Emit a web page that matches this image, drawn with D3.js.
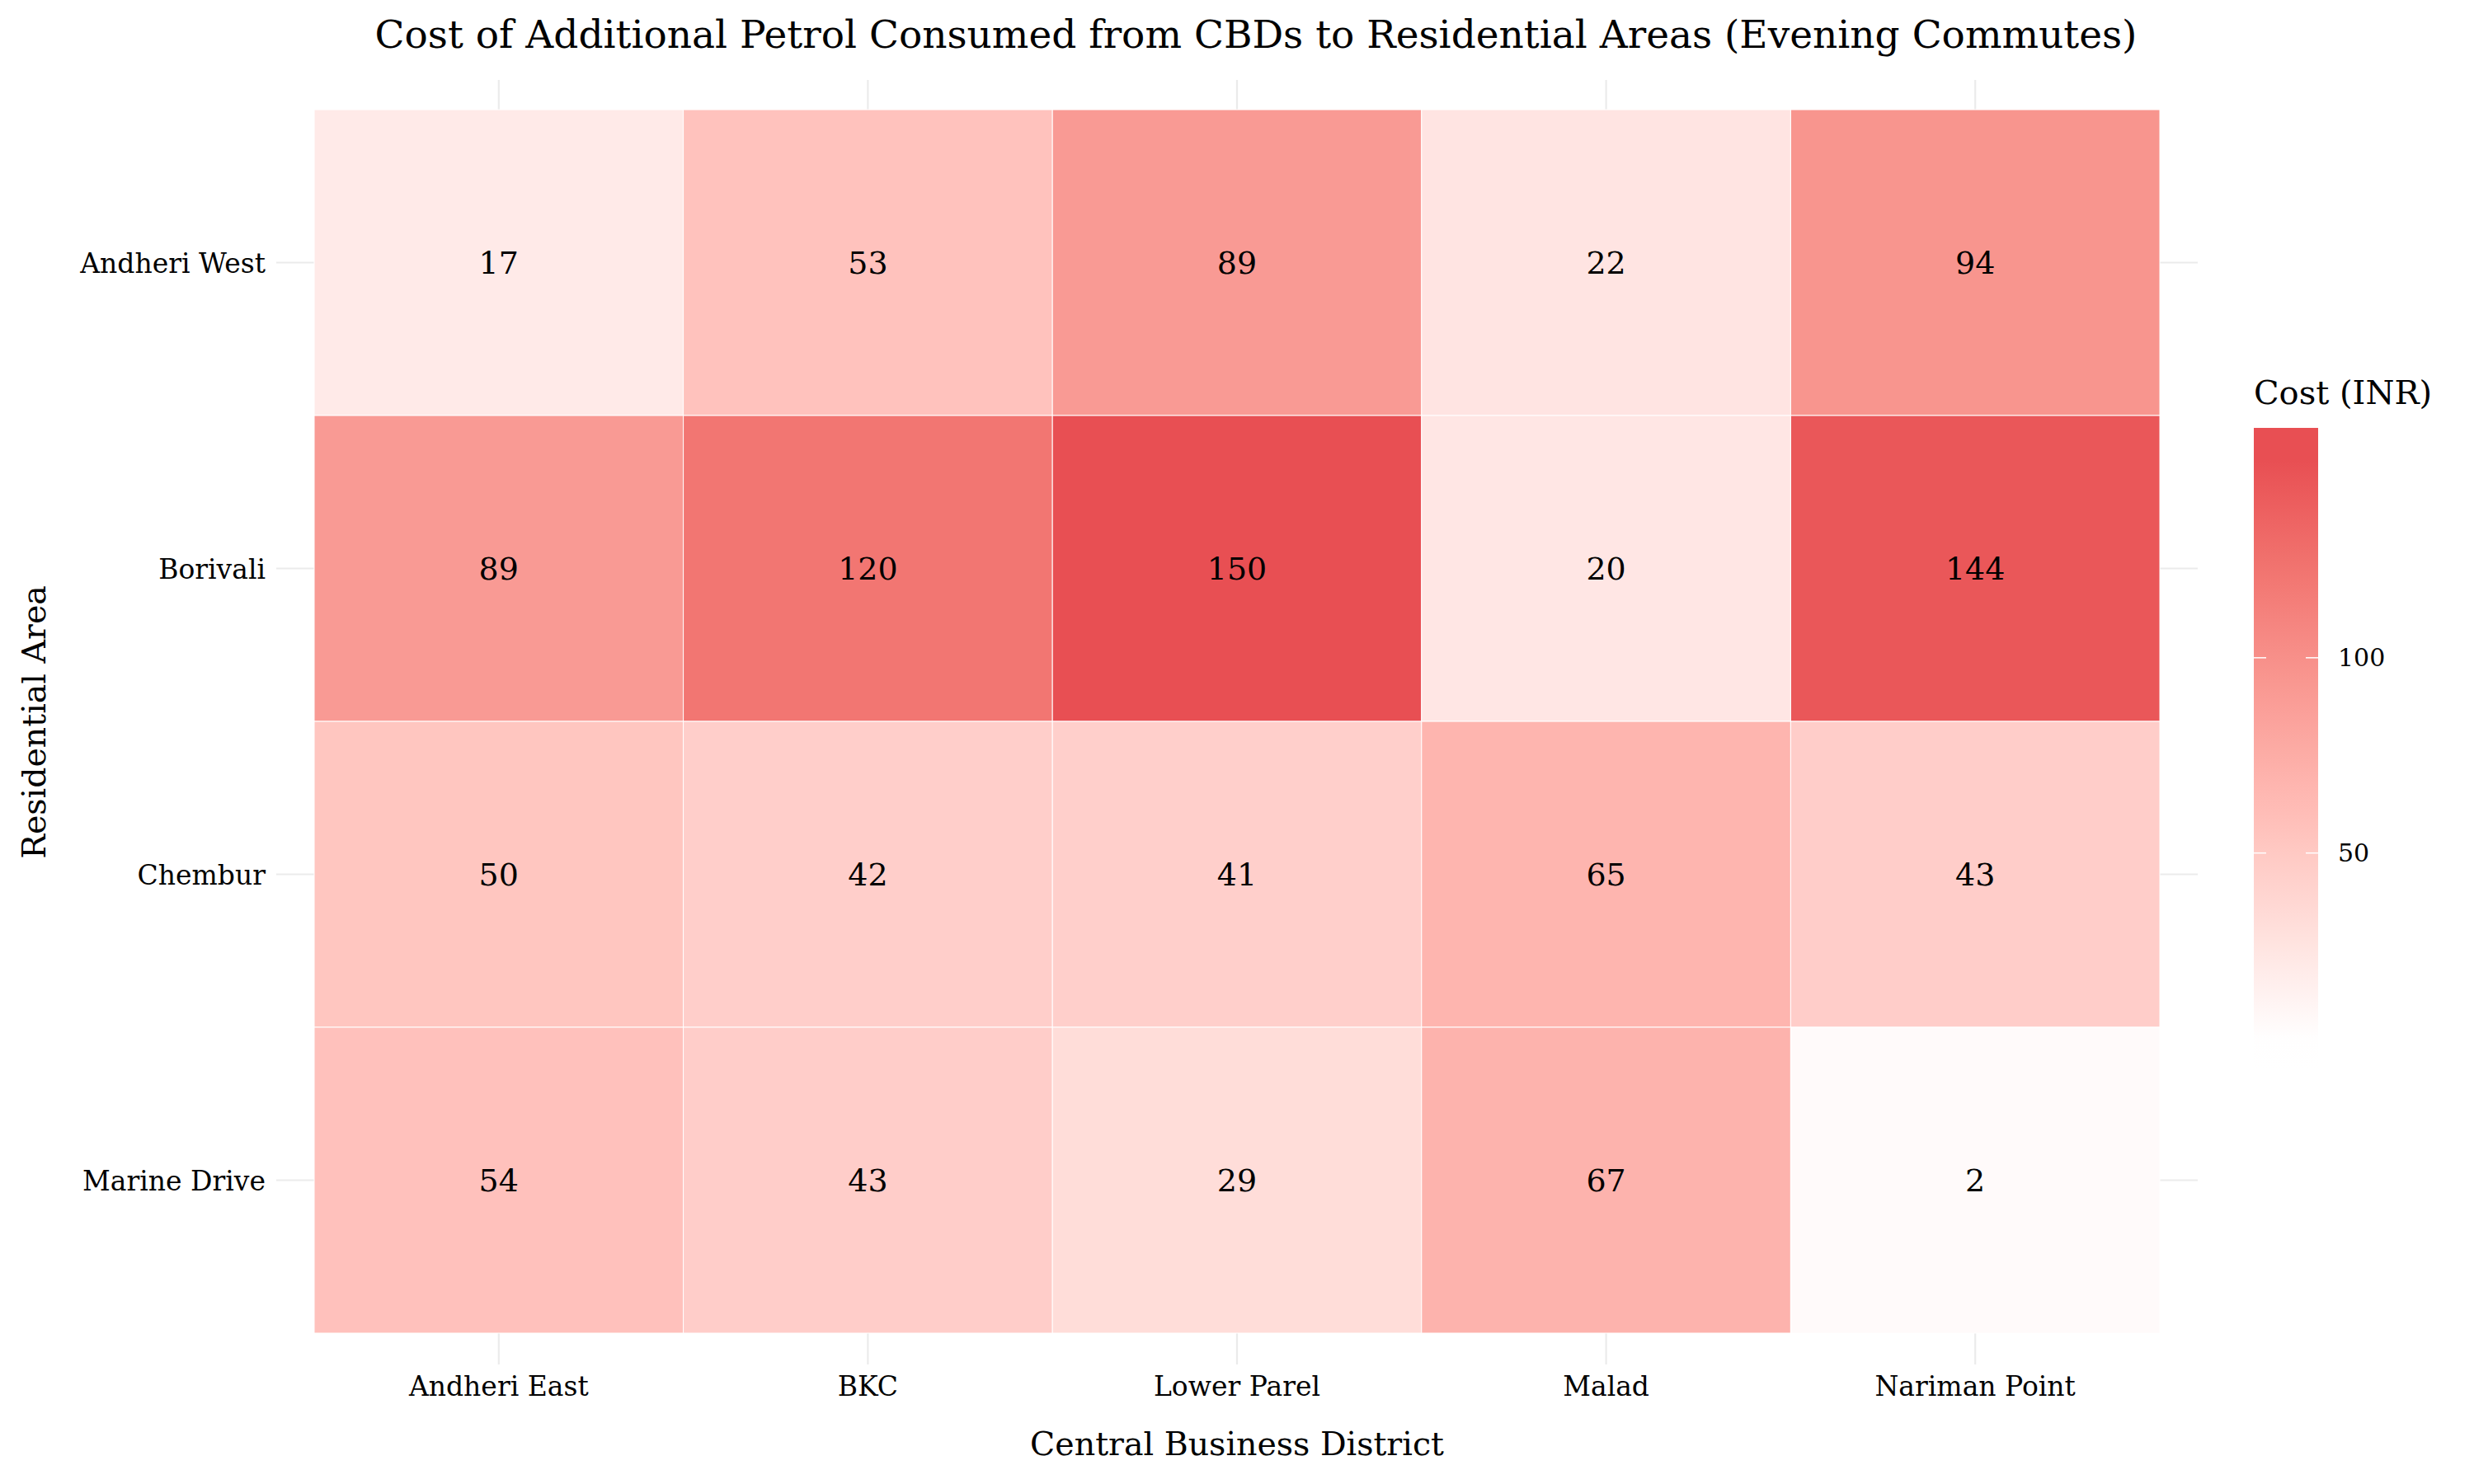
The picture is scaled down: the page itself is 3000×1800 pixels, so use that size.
<!DOCTYPE html>
<html>
<head>
<meta charset="utf-8">
<script src="https://cdn.jsdelivr.net/npm/d3@7"></script>
<style>
  html, body { margin: 0; padding: 0; background: #ffffff; }
  text { font-family: "DejaVu Serif", "Liberation Serif", serif; fill: #000; }
</style>
</head>
<body>
<svg id="chart" width="3000" height="1800"></svg>
<script>
// ---- data ----
const cbds = ["Andheri East", "BKC", "Lower Parel", "Malad", "Nariman Point"];
const residential = ["Andheri West", "Borivali", "Chembur", "Marine Drive"];
const costAndheriWest = [17, 53, 89, 22, 94];
const costBorivali    = [89, 120, 150, 20, 144];
const costChembur     = [50, 42, 41, 65, 43];
const costMarineDrive = [54, 43, 29, 67, 2];
const legendTicks = [50, 100];

const titleText = "Cost of Additional Petrol Consumed from CBDs to Residential Areas (Evening Commutes)";
const xTitle = "Central Business District";
const yTitle = "Residential Area";
const legendTitle = "Cost (INR)";

// build cell table
const rowsValues = [costAndheriWest, costBorivali, costChembur, costMarineDrive];
const cells = [];
residential.forEach((r, i) => {
  cbds.forEach((c, j) => cells.push({ res: r, cbd: c, value: rowsValues[i][j] }));
});

const svg = d3.select("#chart");
const W = 3000, H = 1800;
svg.append("rect").attr("width", W).attr("height", H).attr("fill", "#ffffff");

// layout
const tile = { left: 381, right: 2619, top: 133, bottom: 1617 };
const panel = { left: 335, right: 2665, top: 97, bottom: 1655 };

const x = d3.scaleBand().domain(cbds).range([tile.left, tile.right]).padding(0);
const y = d3.scaleBand().domain(residential).range([tile.top, tile.bottom]).padding(0);

const vmin = d3.min(cells, d => d.value), vmax = d3.max(cells, d => d.value);
const lowColor = "#fffafa", highColor = "#e84f53";
const color = d3.scaleLinear().domain([vmin, vmax])
  .range([lowColor, highColor]).interpolate(d3.interpolateLab);

// grid lines
const grid = svg.append("g");
grid.selectAll("line.vx").data(cbds).join("line")
  .attr("x1", d => x(d) + x.bandwidth() / 2).attr("x2", d => x(d) + x.bandwidth() / 2)
  .attr("y1", panel.top).attr("y2", panel.bottom)
  .attr("stroke", "#ebebeb").attr("stroke-width", 2.2);
grid.selectAll("line.hy").data(residential).join("line")
  .attr("y1", d => y(d) + y.bandwidth() / 2).attr("y2", d => y(d) + y.bandwidth() / 2)
  .attr("x1", panel.left).attr("x2", panel.right)
  .attr("stroke", "#ebebeb").attr("stroke-width", 2.2);

// tiles
svg.append("g").selectAll("rect").data(cells).join("rect")
  .attr("x", d => x(d.cbd)).attr("y", d => y(d.res))
  .attr("width", x.bandwidth()).attr("height", y.bandwidth())
  .attr("fill", d => color(d.value))
  .attr("stroke", "#ffffff").attr("stroke-width", 1);

// cell labels
svg.append("g").selectAll("text").data(cells).join("text")
  .attr("x", d => x(d.cbd) + x.bandwidth() / 2)
  .attr("y", d => y(d.res) + y.bandwidth() / 2 + 13)
  .attr("text-anchor", "middle")
  .attr("font-size", 38)
  .text(d => d.value);

// x tick labels
svg.append("g").selectAll("text").data(cbds).join("text")
  .attr("x", d => x(d) + x.bandwidth() / 2)
  .attr("y", 1693)
  .attr("text-anchor", "middle")
  .attr("font-size", 33)
  .text(d => d);

// y tick labels
svg.append("g").selectAll("text").data(residential).join("text")
  .attr("x", 322)
  .attr("y", d => y(d) + y.bandwidth() / 2 + 12)
  .attr("text-anchor", "end")
  .attr("font-size", 33)
  .text(d => d);

// axis titles
svg.append("text")
  .attr("x", (panel.left + panel.right) / 2).attr("y", 1765)
  .attr("text-anchor", "middle").attr("font-size", 39.5)
  .text(xTitle);
svg.append("text")
  .attr("transform", `translate(55, ${(panel.top + panel.bottom) / 2}) rotate(-90)`)
  .attr("text-anchor", "middle").attr("font-size", 39.5)
  .text(yTitle);

// title
svg.append("text")
  .attr("x", 1523).attr("y", 58)
  .attr("text-anchor", "middle").attr("font-size", 47)
  .text(titleText);

// legend
const bar = { x: 2733, w: 78, top: 519, bottom: 1298 };
const legendScale = d3.scaleLinear().domain([vmin, vmax]).range([1262, 561]);
const barValTop = legendScale.invert(bar.top), barValBottom = legendScale.invert(bar.bottom);
const defs = svg.append("defs");
const grad = defs.append("linearGradient").attr("id", "lg")
  .attr("x1", 0).attr("y1", 1).attr("x2", 0).attr("y2", 0);
const stops = d3.range(0, 1.0001, 0.05);
const colorExt = d3.scaleLinear().domain([vmin, vmax])
  .range(["#ffffff", highColor]).interpolate(d3.interpolateLab).clamp(true);
grad.selectAll("stop").data(stops).join("stop")
  .attr("offset", d => d)
  .attr("stop-color", d => colorExt(barValBottom + d * (barValTop - barValBottom)));
svg.append("rect")
  .attr("x", bar.x).attr("y", bar.top).attr("width", bar.w).attr("height", bar.bottom - bar.top)
  .attr("fill", "url(#lg)");
const lt = svg.append("g");
legendTicks.forEach(t => {
  const ty = legendScale(t);
  lt.append("line").attr("x1", bar.x).attr("x2", bar.x + 15).attr("y1", ty).attr("y2", ty)
    .attr("stroke", "#ffffff").attr("stroke-width", 1.5);
  lt.append("line").attr("x1", bar.x + bar.w - 15).attr("x2", bar.x + bar.w).attr("y1", ty).attr("y2", ty)
    .attr("stroke", "#ffffff").attr("stroke-width", 1.5);
  lt.append("text").attr("x", 2835).attr("y", ty + 10).attr("font-size", 30).text(t);
});
svg.append("text")
  .attr("x", 2733).attr("y", 490).attr("font-size", 40)
  .text(legendTitle);
</script>
</body>
</html>
